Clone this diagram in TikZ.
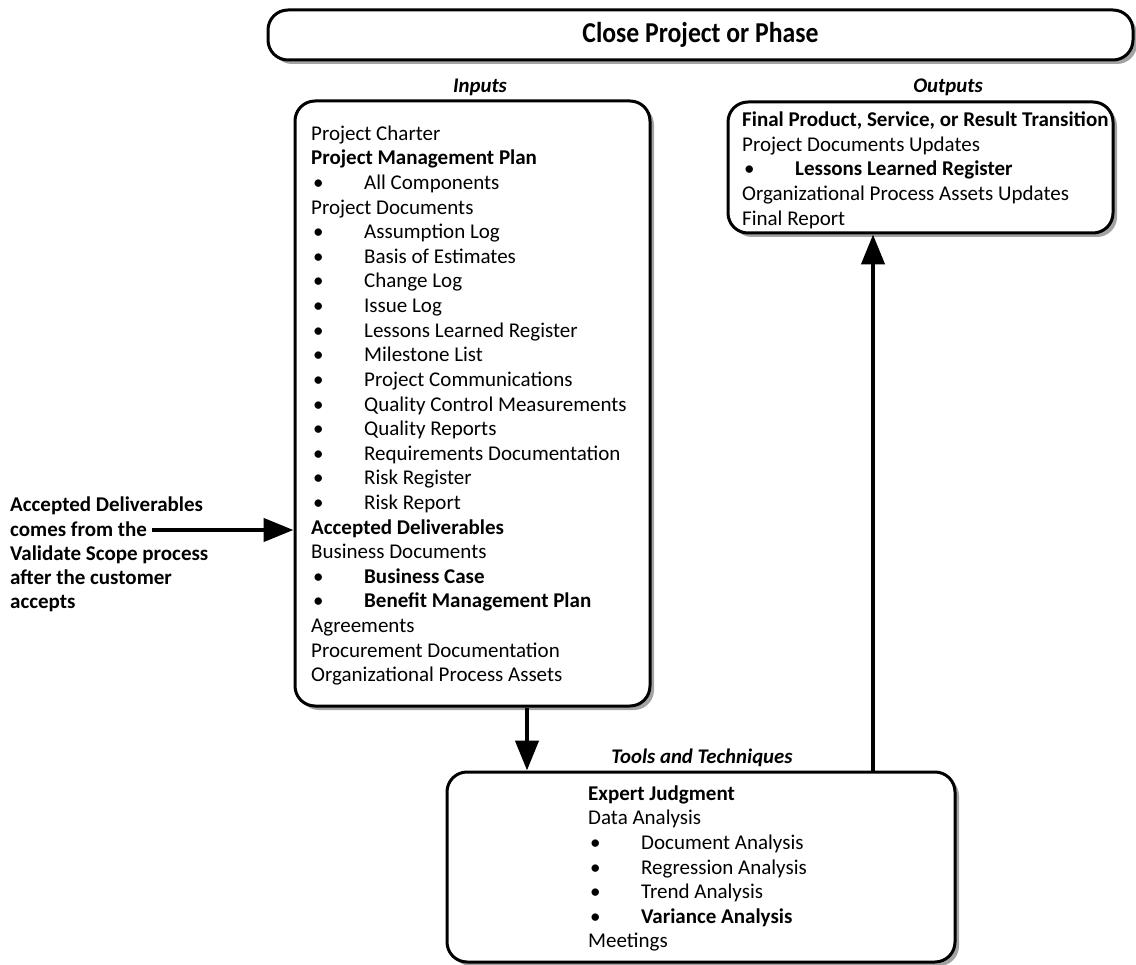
\documentclass[tikz,border=0pt]{standalone}
\usepackage{fontspec}
\usepackage{graphicx}
\setmainfont{Carlito}
\usetikzlibrary{arrows.meta,shadows}
\newcommand{\bul}{\makebox[53pt][l]{\hspace{2pt}•}}
\newcommand{\fst}{\rule{0pt}{20pt}}
\begin{document}
\begin{tikzpicture}[x=1pt,y=-1pt,
  box/.style={draw=black, line width=3pt, rounded corners=20pt, fill=white,
    inner sep=0pt,
    drop shadow={shadow xshift=4pt, shadow yshift=-4pt, fill=black!45, opacity=0.8}},
  body/.style={anchor=north west, inner sep=0pt, align=left,
    font=\fontsize{21}{24.62}\selectfont},
  lbl/.style={anchor=base, inner sep=0pt,
    font=\fontsize{20.8}{24}\selectfont\bfseries\itshape},
  arr/.style={line width=4.5pt, -{Triangle[length=30pt,width=23pt]}}
]
\useasboundingbox (0,0) rectangle (1136,965);

% boxes
\node[box, minimum width=865pt, minimum height=50pt,
  font=\fontsize{25.7}{30}\selectfont\bfseries] (title) at (700.5,35) {\scalebox{1}[1.12]{Close Project or Phase}};
\node[box, minimum width=355pt, minimum height=605pt] (inp) at (472.5,403.5) {};
\node[box, minimum width=385pt, minimum height=131pt] (out) at (920.5,167.5) {};
\node[box, minimum width=508pt, minimum height=190pt] (tools) at (701,867) {};

% labels
\node[lbl] (linp) at (480,93) {Inputs};
\node[lbl] (lout) at (948,93) {Outputs};
\node[lbl] (ltools) at (702,763.5) {Tools and Techniques};

% inputs text
\node[body] (inptext) at (311,120) {\fst Project Charter\\
\textbf{Project Management Plan}\\
\bul All Components\\
Project Documents\\
\bul Assumption Log\\
\bul Basis of Estimates\\
\bul Change Log\\
\bul Issue Log\\
\bul Lessons Learned Register\\
\bul Milestone List\\
\bul Project Communications\\
\bul Quality Control Measurements\\
\bul Quality Reports\\
\bul Requirements Documentation\\
\bul Risk Register\\
\bul Risk Report\\
\textbf{Accepted Deliverables}\\
Business Documents\\
\bul \textbf{Business Case}\\
\bul \textbf{Benefit Management Plan}\\
Agreements\\
Procurement Documentation\\
Organizational Process Assets};

% outputs text
\node[body] (outtext) at (742,106.5) {\fst\textbf{Final Product, Service, or Result Transition}\\
Project Documents Updates\\
\bul \textbf{Lessons Learned Register}\\
Organizational Process Assets Updates\\
Final Report};

% tools text
\node[body] (tooltext) at (588,780) {\fst\textbf{Expert Judgment}\\
Data Analysis\\
\bul Document Analysis\\
\bul Regression Analysis\\
\bul Trend Analysis\\
\bul \textbf{Variance Analysis}\\
Meetings};

% left note
\node[body, font=\fontsize{21}{24.2}\selectfont\bfseries] (note) at (10,491.7) {\fst Accepted Deliverables\\
comes from the\\
Validate Scope process\\
after the customer\\
accepts};

% connectors
\coordinate (src) at (152,530);
\coordinate (dx) at (527,0);
\coordinate (ux) at (873,0);
\draw[arr] (src) -- (src -| inp.west);
\draw[arr] (inp.south -| dx) -- (tools.north -| dx);
\draw[arr] (tools.north -| ux) -- (out.south -| ux);
\end{tikzpicture}
\end{document}
